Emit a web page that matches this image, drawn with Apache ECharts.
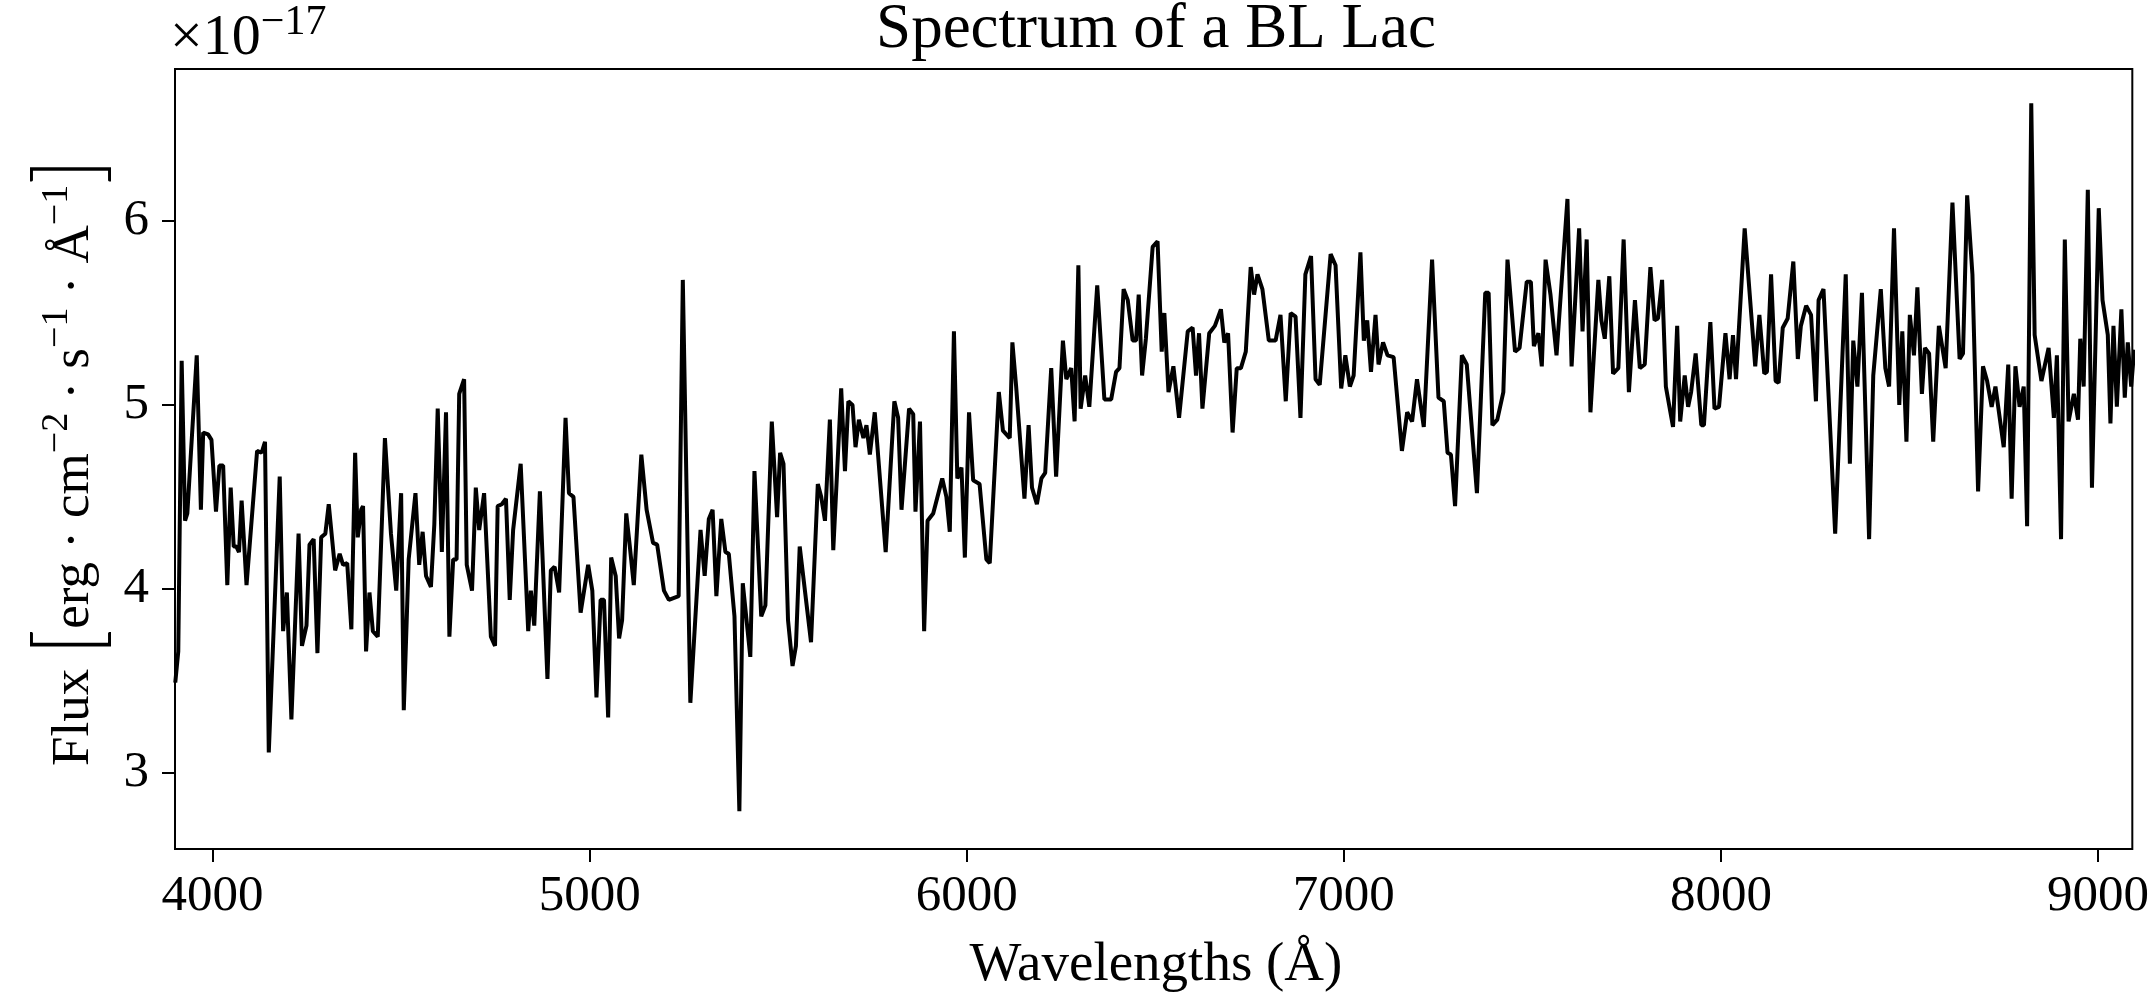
<!DOCTYPE html>
<html>
<head>
<meta charset="utf-8">
<script src="https://cdn.jsdelivr.net/npm/echarts@6/dist/echarts.min.js"></script>
<style>
html,body{margin:0;padding:0;background:#fff;}
#chart{width:2152px;height:992px;}
</style>
</head>
<body>
<div id="chart"></div>
<script>
const wavelengths = [
3901,3909,3918,3927,3933,3958,3969,3975,3988,3997,4009,4018,4028,4039,4048,4056,4063,4070,4077,4090,
4118,4130,4139,4149,4178,4187,4197,4209,4228,4237,4249,4257,4268,4278,4288,4299,4308,4325,4337,4346,
4357,4368,4378,4385,4394,4399,4407,4416,4425,4438,4457,4473,4487,4491,4500,4507,4520,4538,4548,4557,
4566,4579,4588,4597,4608,4619,4628,4638,4647,4654,4667,4674,4688,4698,4707,4720,4738,4749,4756,4767,
4778,4788,4797,4817,4837,4844,4853,4857,4868,4888,4897,4907,4919,4936,4945,4957,4976,4996,5007,5018,
5029,5038,5049,5057,5069,5078,5086,5097,5106,5117,5137,5151,5168,5179,5197,5210,5236,5247,5267,5294,
5305,5316,5326,5336,5349,5360,5369,5384,5397,5406,5426,5437,5455,5466,5483,5497,5505,5514,5526,5538,
5547,5557,5587,5605,5614,5624,5637,5646,5667,5677,5686,5697,5705,5714,5726,5734,5743,5756,5785,5808,
5818,5827,5847,5858,5864,5876,5887,5896,5911,5935,5946,5955,5966,5975,5986,5995,6006,6017,6034,6052,
6061,6085,6096,6114,6121,6131,6153,6164,6173,6186,6198,6208,6224,6237,6255,6264,6277,6286,6296,6302,
6314,6325,6346,6365,6383,6396,6405,6416,6427,6440,6449,6456,6465,6475,6493,6506,6517,6524,6535,6548,
6563,6586,6599,6608,6616,6625,6643,6658,6674,6683,6693,6705,6716,6727,6740,6753,6762,6771,6784,6801,
6819,6832,6846,6859,6872,6885,6898,6913,6925,6936,6965,6978,6993,7004,7016,7026,7044,7053,7062,7072,
7084,7092,7104,7116,7132,7154,7168,7181,7194,7212,7234,7251,7265,7275,7284,7295,7313,7326,7353,7375,
7384,7394,7407,7423,7434,7454,7466,7485,7496,7504,7516,7525,7535,7548,7564,7593,7604,7624,7633,7644,
7654,7675,7683,7692,7704,7714,7728,7742,7756,7772,7785,7798,7813,7824,7833,7844,7854,7873,7884,7892,
7904,7913,7921,7933,7948,7955,7972,7983,7995,8012,8023,8032,8040,8063,8091,8102,8115,8122,8133,8145,
8153,8164,8177,8192,8204,8212,8226,8239,8252,8259,8272,8303,8331,8342,8351,8362,8374,8393,8404,8424,
8436,8446,8459,8473,8481,8492,8501,8512,8521,8533,8541,8552,8563,8578,8596,8614,8633,8642,8653,8667,
8682,8695,8706,8718,8728,8750,8762,8771,8781,8792,8803,8812,8823,8832,8850,8869,8883,8891,8902,8912,
8922,8936,8947,8953,8962,8973,8984,9002,9012,9026,9033,9041,9050,9062,9071,9079,9088,9096
];
const flux = [
3.49,3.66,5.24,4.37,4.41,5.27,4.43,4.85,4.84,4.81,4.42,4.67,4.67,4.02,4.55,4.23,4.23,4.20,4.48,4.02,
4.75,4.74,4.80,3.11,4.61,3.77,3.98,3.29,4.30,3.69,3.80,4.24,4.27,3.65,4.28,4.30,4.46,4.10,4.19,4.13,
4.14,3.78,4.74,4.28,4.43,4.45,3.66,3.98,3.77,3.74,4.82,4.30,3.99,3.98,4.52,3.34,4.16,4.52,4.13,4.31,
4.07,4.01,4.35,4.98,4.20,4.96,3.74,4.16,4.16,5.06,5.14,4.13,3.99,4.55,4.32,4.52,3.74,3.69,4.45,4.46,
4.49,3.94,4.32,4.68,3.77,3.99,3.80,3.80,4.53,3.51,4.10,4.12,3.98,4.93,4.52,4.50,3.87,4.13,3.99,3.41,
3.94,3.94,3.30,4.17,4.07,3.73,3.83,4.41,4.24,4.02,4.73,4.43,4.25,4.24,3.99,3.94,3.96,5.68,3.38,4.32,
4.07,4.38,4.43,3.96,4.38,4.20,4.19,3.85,2.79,4.03,3.63,4.64,3.85,3.91,4.91,4.39,4.74,4.68,3.83,3.58,
3.69,4.23,3.71,4.57,4.50,4.37,4.92,4.21,5.09,4.64,5.02,5.00,4.77,4.92,4.82,4.89,4.73,4.96,4.20,5.02,
4.93,4.43,4.98,4.95,4.42,4.91,3.77,4.37,4.41,4.60,4.50,4.31,5.40,4.60,4.66,4.17,4.96,4.59,4.57,4.16,
4.14,5.07,4.86,4.82,5.34,5.10,4.49,4.89,4.55,4.46,4.60,4.63,5.20,4.61,5.35,5.14,5.20,4.91,5.76,4.98,
5.16,4.99,5.65,5.03,5.03,5.18,5.20,5.63,5.57,5.35,5.35,5.60,5.16,5.36,5.86,5.89,5.29,5.50,5.07,5.21,
4.93,5.40,5.42,5.16,5.39,4.98,5.39,5.43,5.52,5.34,5.39,4.85,5.20,5.20,5.29,5.75,5.60,5.71,5.63,5.35,
5.35,5.49,5.02,5.50,5.48,4.93,5.71,5.81,5.14,5.11,5.82,5.76,5.09,5.27,5.10,5.16,5.83,5.35,5.46,5.18,
5.49,5.22,5.34,5.27,5.26,4.75,4.96,4.91,5.14,4.88,5.79,5.04,5.02,4.74,4.73,4.45,5.27,5.22,4.52,5.61,
5.61,4.89,4.92,5.07,5.79,5.29,5.31,5.67,5.67,5.32,5.39,5.21,5.79,5.60,5.27,6.12,5.21,5.96,5.40,5.90,
4.96,5.68,5.46,5.36,5.70,5.17,5.20,5.90,5.07,5.57,5.20,5.22,5.75,5.46,5.47,5.68,5.10,4.88,5.43,4.91,
5.16,4.99,5.07,5.28,4.89,4.89,5.45,4.98,4.99,5.39,5.14,5.38,5.14,5.96,5.21,5.49,5.17,5.18,5.71,5.13,
5.12,5.42,5.47,5.78,5.25,5.43,5.54,5.49,5.02,5.57,5.63,4.30,5.71,4.68,5.35,5.10,5.61,4.27,5.16,5.63,
5.20,5.10,5.96,5.00,5.40,4.80,5.49,5.27,5.64,5.06,5.31,5.28,4.80,5.43,5.20,6.10,5.25,5.28,6.14,5.71,
4.53,5.21,5.13,4.99,5.10,4.77,5.22,4.49,5.21,4.99,5.10,4.34,6.64,5.38,5.13,5.31,4.93,5.27,4.27,5.90,
4.91,5.06,4.92,5.36,5.10,6.17,4.55,6.07,5.57,5.38,4.90,5.43,4.99,5.52,5.04,5.34,5.10,5.30
];
const xTicks = [4000, 5000, 6000, 7000, 8000, 9000];
const yTicks = [3, 4, 5, 6];

const FONT = '"Liberation Serif", "Times New Roman", serif';
const chart = echarts.init(document.getElementById('chart'), null, {renderer: 'canvas'});
const seriesData = wavelengths.map((w, i) => [w, flux[i]]);

chart.setOption({
  animation: false,
  backgroundColor: '#fff',
  grid: {left: 175, right: 15, top: 69, bottom: 143, show: true, borderColor: '#000', borderWidth: 2, backgroundColor: 'transparent', containLabel: false},
  xAxis: {
    type: 'value', min: 3900.3, max: 9091,
    axisLine: {show: false},
    axisTick: {show: true, length: 13, lineStyle: {color: '#000', width: 2}, customValues: xTicks},
    axisLabel: {customValues: xTicks, formatter: v => String(v), margin: 22, fontFamily: FONT, fontSize: 51, color: '#000'},
    splitLine: {show: false}
  },
  yAxis: {
    type: 'value', min: 2.585, max: 6.827,
    axisLine: {show: false},
    axisTick: {show: true, length: 13, lineStyle: {color: '#000', width: 2}, customValues: yTicks},
    axisLabel: {customValues: yTicks, formatter: v => String(v), margin: 26, fontFamily: FONT, fontSize: 51, color: '#000'},
    splitLine: {show: false}
  },
  graphic: [
    {type: 'text', x: 1156, y: 30, style: {text: 'Spectrum of a BL Lac', fontFamily: FONT, fontSize: 63, fill: '#000', textAlign: 'center', textVerticalAlign: 'middle'}},
    {type: 'text', x: 1156, y: 966, style: {text: 'Wavelengths (Å)', fontFamily: FONT, fontSize: 55, fill: '#000', textAlign: 'center', textVerticalAlign: 'middle'}},
    {type: 'text', x: 170, y: 68, style: {
      text: '{n|×10}{s|−17}', textAlign: 'left', textVerticalAlign: 'bottom',
      rich: {
        n: {fontFamily: FONT, fontSize: 58, lineHeight: 58, verticalAlign: 'bottom', fill: '#000'},
        s: {fontFamily: FONT, fontSize: 42, lineHeight: 42, padding: [0, 0, 24, 0], verticalAlign: 'bottom', fill: '#000'}
      }
    }},
    {type: 'text', x: 56, y: 462, rotation: Math.PI / 2, style: {
      text: '{n|Flux }{b|[}{n|erg · cm}{s|−2}{n| · s}{s|−1}{n| · Å}{s|−1}{b|]}',
      textAlign: 'center', textVerticalAlign: 'middle',
      rich: {
        n: {fontFamily: FONT, fontSize: 53, lineHeight: 53, verticalAlign: 'bottom', fill: '#000'},
        s: {fontFamily: FONT, fontSize: 38, lineHeight: 38, padding: [0, 0, 25, 0], verticalAlign: 'bottom', fill: '#000'},
        b: {fontFamily: 'Lato', fontWeight: 300, fontSize: 90, lineHeight: 90, padding: [0, 0, -14, 0], verticalAlign: 'bottom', fill: '#000'}
      }
    }}
  ],
  series: [{
    type: 'line', data: seriesData, showSymbol: false, symbol: 'none',
    lineStyle: {color: '#000', width: 4}, clip: true, silent: true
  }]
});
</script>
</body>
</html>
